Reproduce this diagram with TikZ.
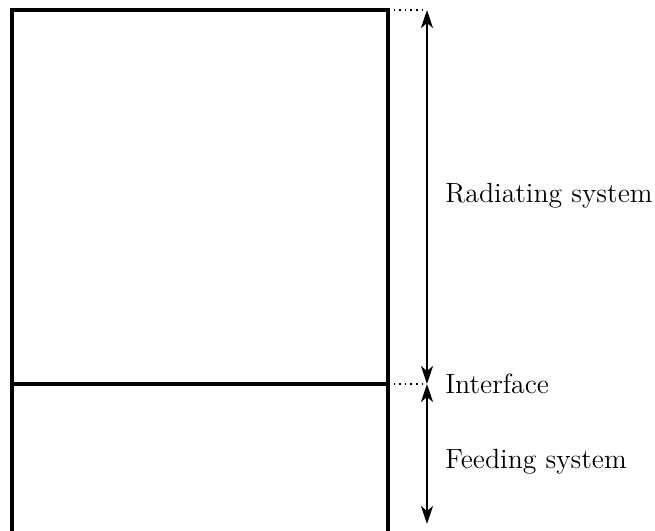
\documentclass[tikz,border=0pt]{standalone}
\usepackage{tikz}
\usetikzlibrary{arrows.meta}

\tikzset{
  wall/.style={black,line width=1.6pt},
  gap/.style={black,dotted,line width=0.8pt},
  span/.style={black,line width=1pt,{Stealth[length=9pt,width=6pt,inset=2.5pt]}-{Stealth[length=9pt,width=6pt,inset=2.5pt]}},
  lbl/.style={anchor=west,inner sep=0pt,font=\fontsize{13.9}{16}\selectfont}
}

\begin{document}
\begin{tikzpicture}[x=0.5pt,y=-0.5pt]
      \useasboundingbox (0,0) rectangle (655,531);
      % the two systems
      \coordinate (bl) at (12,531);
      \coordinate (tl) at (12,10);
      \coordinate (tr) at (388,10);
      \coordinate (br) at (388,531);
      \coordinate (il) at (12,384);
      \coordinate (ir) at (388,384);
      \draw[wall] (bl)--(tl)--(tr)--(br);
      \draw[wall] (il)--(ir);
      % dimension marks
      \coordinate (at) at (427,10);
      \coordinate (ai) at (427,384);
      \coordinate (ab) at (427,524);
      \draw[gap] (tr)--(at);
      \draw[gap] (ir)--(ai);
      \draw[span] (at)--(ai);
      \draw[span] (ai)--(ab);
      \node[lbl] (rad) at (445,196) {Radiating system};
      \node[lbl] (int) at (445,384) {Interface};
      \node[lbl] (feed) at (445,462) {Feeding system};
    \end{tikzpicture}
\end{document}
